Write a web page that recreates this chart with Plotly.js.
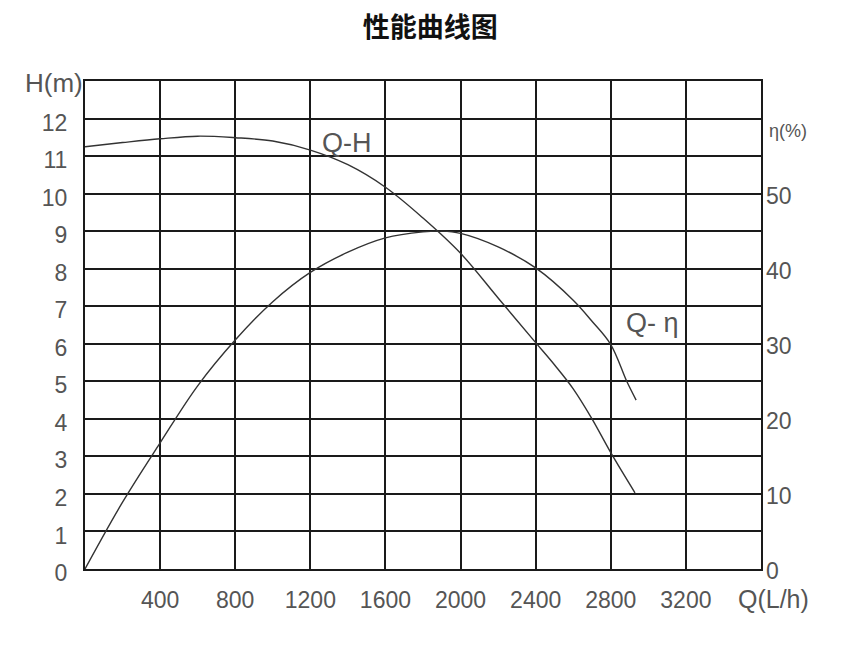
<!DOCTYPE html>
<html>
<head>
<meta charset="utf-8">
<script src="https://cdn.plot.ly/plotly-3.0.1.min.js"></script>
<style>
html,body{margin:0;padding:0;background:#fff;}
#chart{width:864px;height:648px;}
</style>
</head>
<body>
<div id="chart"></div>
<script>
// Q-H curve (head in m, left axis)
const qH = [0, 200, 400, 600, 800, 1000, 1200, 1400, 1600, 1800, 2000, 2200, 2400, 2500, 2600, 2700, 2800, 2929];
const head = [11.25, 11.36, 11.46, 11.53, 11.49, 11.40, 11.16, 10.77, 10.17, 9.35, 8.41, 7.22, 6.03, 5.44, 4.80, 4.00, 3.10, 2.03];
// Q-eta curve (efficiency in %, right axis)
const qEta = [0, 200, 400, 600, 800, 1000, 1200, 1400, 1600, 1800, 1900, 2000, 2200, 2400, 2600, 2700, 2800, 2885, 2935];
const eta = [0, 8.9, 16.8, 24.4, 30.5, 35.6, 39.5, 42.2, 44.1, 44.9, 45.0, 44.7, 42.9, 40.1, 35.8, 33.0, 29.9, 25.0, 22.5];
// tick labels
const xTicks = [400, 800, 1200, 1600, 2000, 2400, 2800, 3200];
const hTicks = [0, 1, 2, 3, 4, 5, 6, 7, 8, 9, 10, 11, 12];
const etaTicks = [0, 10, 20, 30, 40, 50];

const fam = 'Liberation Sans Narrow, Liberation Sans, Arimo, sans-serif';
const tickFont = {family: fam, size: 23, color: '#555'};
const gridColor = '#1a1a1a';

const traces = [
  {x: qH, y: head, mode: 'lines', line: {color: '#333', width: 1.4, shape: 'spline', smoothing: 1}, yaxis: 'y', hoverinfo: 'skip'},
  {x: qEta, y: eta, mode: 'lines', line: {color: '#333', width: 1.4, shape: 'spline', smoothing: 1}, yaxis: 'y2', hoverinfo: 'skip'}
];

const layout = {
  width: 864, height: 648,
  margin: {l: 85, r: 103, t: 81, b: 79},
  paper_bgcolor: '#fff', plot_bgcolor: '#fff',
  showlegend: false,
  title: {text: '<b>性能曲线图</b>', font: {family: 'Noto Sans CJK SC', size: 27, color: '#111'},
          x: 0.498, xref: 'container', y: 0.958, yref: 'container', xanchor: 'center', yanchor: 'middle'},
  xaxis: {range: [0, 3600], tickvals: xTicks, ticktext: xTicks.map(String), ticks: '',
          showgrid: true, gridcolor: gridColor, gridwidth: 2, zeroline: false,
          showline: true, linecolor: gridColor, linewidth: 2, mirror: true,
          tickfont: tickFont, ticklabelstandoff: 9, fixedrange: true},
  yaxis: {range: [0, 13], tickvals: hTicks, ticktext: hTicks.map(String), ticks: '',
          showgrid: true, gridcolor: gridColor, gridwidth: 2, zeroline: false,
          showline: true, linecolor: gridColor, linewidth: 2, mirror: true,
          tickfont: tickFont, ticklabelstandoff: 11, ticklabelshift: 4, fixedrange: true},
  yaxis2: {range: [0, 65], overlaying: 'y', side: 'right', tickvals: etaTicks, ticktext: etaTicks.map(String), ticks: '',
           showgrid: false, zeroline: false, showline: false,
           tickfont: tickFont, ticklabelstandoff: 4, ticklabelshift: 2, fixedrange: true},
  annotations: [
    {text: 'H(m)', xref: 'paper', yref: 'paper', x: -0.046, y: 0.996, showarrow: false, xanchor: 'center', yanchor: 'middle',
     font: {family: fam, size: 26, color: '#555'}},
    {text: 'Q(L/h)', xref: 'paper', yref: 'paper', x: 1.019, y: -0.062, showarrow: false, xanchor: 'center', yanchor: 'middle',
     font: {family: fam, size: 25, color: '#555'}},
    {text: 'η(%)', xref: 'paper', yref: 'paper', x: 1.040, y: 0.897, showarrow: false, xanchor: 'center', yanchor: 'middle',
     font: {family: fam, size: 18, color: '#555'}},
    {text: 'Q-H', xref: 'x', yref: 'y', x: 1395, y: 11.35, showarrow: false, xanchor: 'center', yanchor: 'middle',
     font: {family: fam, size: 27, color: '#555'}},
    {text: 'Q- η', xref: 'x', yref: 'y', x: 3020, y: 6.55, showarrow: false, xanchor: 'center', yanchor: 'middle',
     font: {family: fam, size: 27, color: '#555'}}
  ]
};

Plotly.newPlot('chart', traces, layout, {staticPlot: true, displayModeBar: false});
</script>
</body>
</html>
